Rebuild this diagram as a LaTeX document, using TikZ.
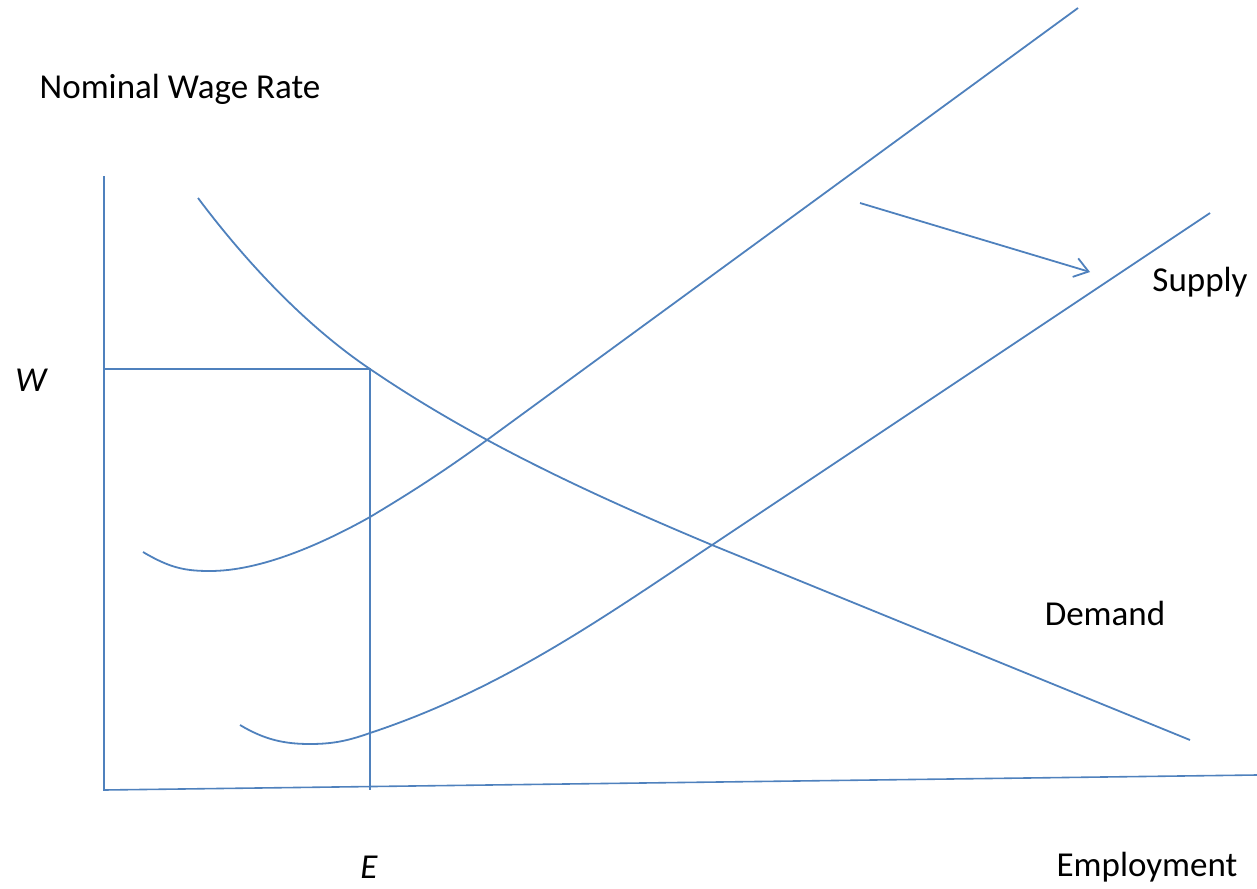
\documentclass[tikz,border=0pt]{standalone}
\usepackage{fontspec}
\setmainfont{Carlito}
\usepackage{tikz}
\usetikzlibrary{arrows.meta,positioning}
\definecolor{curveblue}{RGB}{79,129,189}

\begin{document}
\begin{tikzpicture}[
    x=0.5pt,y=-0.5pt,
    font=\fontsize{17.5}{20}\selectfont,
    curve/.style={draw=curveblue,line width=0.9pt},
    guide/.style={draw=curveblue,line width=0.8pt},
    arr/.style={-{Straight Barb[length=2.4mm,width=3.4mm]},curveblue,line width=0.9pt},
    lbl/.style={inner sep=0pt}
]
\useasboundingbox (0,0) rectangle (1257,888);
% axes and guide lines
\coordinate (origin) at (104,790);
\coordinate (ytop) at (104,176);
\coordinate (xend) at (1257,775);
\coordinate (wpt) at (370,369);
\coordinate (wleft) at (104,369);
\coordinate (ebase) at (370,790);
\draw[guide] (ytop)--(origin)--(xend);
\draw[guide] (wleft)--(wpt)--(ebase);
% demand curve
\draw[curve] (198,198) .. controls (255,274) and (315,332) .. (wpt)
  .. controls (480,444) and (600,498) .. (712,545) -- (1190,740);
% supply curves, before and after the shift
\draw[curve] (143,552) .. controls (170,568) and (185,571) .. (210,571)
  .. controls (260,571) and (320,545) .. (370,517)
  .. controls (410,493) and (440,474) .. (487,440) -- (1078,8);
\draw[curve] (240,725) .. controls (265,740) and (285,744) .. (310,744)
  .. controls (335,744) and (350,740) .. (370,733)
  .. controls (500,690) and (600,620) .. (712,545) -- (1210,213);
% shift arrow
\coordinate (shiftstart) at (860,203);
\coordinate (shiftend) at (1090,272);
\draw[arr] (shiftstart)--(shiftend);
% labels
\node[lbl] (ylabel) at (180,89) {Nominal Wage Rate};
\node[lbl] (wlabel) at (31,380) {\itshape W};
\node[lbl] (supply) at (1200,282) {Supply};
\node[lbl] (demand) at (1105,613) {Demand};
\node[lbl] (elabel) at (369,867) {\itshape E};
\node[lbl] (xlabel) at (1147,867) {Employment};
\end{tikzpicture}
\end{document}
